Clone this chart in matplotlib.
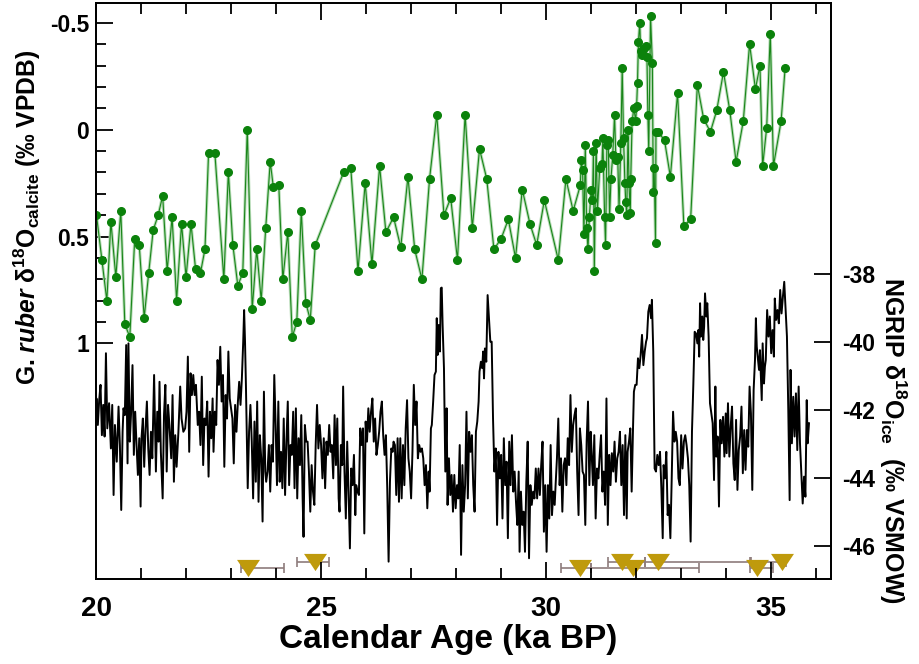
"""G. ruber d18O (green, left axis) against NGRIP d18O (black, right axis), with tie points."""
import matplotlib
matplotlib.use("Agg")
import matplotlib.pyplot as plt
from matplotlib.ticker import FixedLocator

plt.rcParams.update({
    "font.family": "Liberation Sans",
    "font.weight": "bold",
    "axes.labelweight": "bold",
    "axes.unicode_minus": False,
    "mathtext.fontset": "custom",
    "mathtext.rm": "Liberation Sans:bold",
    "mathtext.it": "Liberation Sans:italic:bold",
    "mathtext.bf": "Liberation Sans:bold",
    "mathtext.default": "rm",
})

# --- G. ruber d18O (calcite), permil VPDB ---
ruber_age = [
    20.01, 20.13, 20.24, 20.33, 20.44, 20.55, 20.64, 20.75, 20.86, 20.96,
    21.07, 21.17, 21.27, 21.38, 21.48, 21.58, 21.69, 21.79, 21.90, 22.00,
    22.11, 22.21, 22.32, 22.42, 22.50, 22.64, 22.84, 22.94, 23.04, 23.15,
    23.26, 23.36, 23.47, 23.57, 23.67, 23.77, 23.87, 23.94, 24.06, 24.15,
    24.26, 24.36, 24.46, 24.56, 24.66, 24.76, 24.87, 25.50, 25.66, 25.82,
    25.98, 26.13, 26.30, 26.44, 26.61, 26.77, 26.93, 27.08, 27.24, 27.41,
    27.57, 27.73, 27.88,
    28.03, 28.20, 28.36, 28.52, 28.68, 28.84, 29.00, 29.16, 29.32, 29.47,
    29.64, 29.79, 29.96, 30.27, 30.44, 30.60, 30.76, 30.78, 30.81, 30.84,
    30.87, 30.90, 30.93, 30.96, 31.00, 31.03, 31.05, 31.07, 31.11, 31.14,
    31.19, 31.24, 31.26, 31.30, 31.32, 31.35, 31.38, 31.41, 31.44, 31.48,
    31.52, 31.55, 31.59, 31.62, 31.66, 31.69, 31.72, 31.75, 31.77, 31.79,
    31.82, 31.84, 31.87, 31.88, 31.91, 31.95, 31.99, 32.01, 32.03, 32.05,
    32.08, 32.10, 32.14, 32.18, 32.22, 32.24, 32.26, 32.28, 32.32, 32.36,
    32.38, 32.40, 32.43, 32.44, 32.49, 32.63, 32.76, 32.92, 33.06, 33.21,
    33.36, 33.50, 33.65, 33.79, 33.94, 34.08, 34.22, 34.38, 34.52, 34.65,
    34.75, 34.81, 34.90, 34.98, 35.05, 35.22, 35.31,
]
ruber_d18o = [
    0.40, 0.61, 0.80, 0.43, 0.69, 0.38, 0.91, 0.97, 0.51, 0.54,
    0.88, 0.67, 0.47, 0.40, 0.31, 0.66, 0.41, 0.80, 0.44, 0.69,
    0.44, 0.65, 0.67, 0.56, 0.11, 0.11, 0.70, 0.20, 0.54, 0.73,
    0.67, 0.00, 0.84, 0.56, 0.80, 0.46, 0.15, 0.27, 0.26, 0.70,
    0.48, 0.97, 0.90, 0.38, 0.81, 0.89, 0.54, 0.20, 0.18, 0.66,
    0.25, 0.63, 0.17, 0.48, 0.41, 0.55, 0.22, 0.56, 0.70, 0.23,
    -0.07, 0.40, 0.32,
    0.61, -0.07, 0.46, 0.09, 0.23, 0.56, 0.51, 0.42, 0.60, 0.28,
    0.44, 0.54, 0.33, 0.61, 0.23, 0.38, 0.26, 0.14, 0.19, 0.49,
    0.07, 0.46, 0.56, 0.41, 0.28, 0.33, 0.10, 0.66, 0.06, 0.38,
    0.18, 0.16, 0.04, 0.41, 0.54, 0.07, 0.05, 0.41, 0.23, 0.12,
    -0.07, 0.14, 0.13, 0.37, 0.06, -0.29, 0.04, 0.25, 0.34, 0.40,
    0.00, 0.25, 0.39, 0.23, -0.04, -0.10, -0.04, -0.11, -0.22, -0.41,
    -0.50, -0.37, -0.35, -0.38, -0.39, -0.34, -0.07, 0.10, -0.53, -0.31,
    0.29, 0.18, 0.53, 0.01, 0.01, 0.05, 0.22, -0.17, 0.45, 0.42,
    -0.21, -0.05, 0.01, -0.09, -0.27, -0.09, 0.15, -0.04, -0.40, -0.19,
    -0.30, 0.17, -0.01, -0.45, 0.17, -0.04, -0.29,
]

# --- NGRIP d18O (ice), permil VSMOW ---
ngrip_age = [
    20.00, 20.01, 20.04, 20.07, 20.10, 20.13, 20.16, 20.19, 20.22, 20.25,
    20.29, 20.33, 20.36, 20.39, 20.42, 20.46, 20.50, 20.53, 20.56, 20.59,
    20.61, 20.64, 20.67, 20.70, 20.72, 20.75, 20.78, 20.81, 20.84, 20.87,
    20.90, 20.93, 20.96, 20.99, 21.01, 21.04, 21.07, 21.10, 21.13, 21.16,
    21.19, 21.22, 21.25, 21.29, 21.33, 21.36, 21.39, 21.41, 21.44, 21.48,
    21.51, 21.54, 21.57, 21.60, 21.63, 21.67, 21.70, 21.73, 21.76, 21.79,
    21.83, 21.87, 21.90, 21.94, 21.98, 22.01, 22.04, 22.07, 22.10, 22.13,
    22.16, 22.19, 22.22, 22.26, 22.29, 22.32, 22.35, 22.38, 22.41, 22.44,
    22.47, 22.50, 22.53, 22.56, 22.59, 22.61, 22.64, 22.67, 22.70, 22.73,
    22.76, 22.79, 22.82, 22.85, 22.88, 22.91, 22.94, 22.97, 23.00, 23.03,
    23.06, 23.09, 23.12, 23.15, 23.18, 23.21, 23.24, 23.27, 23.29,
    23.31, 23.33, 23.37, 23.40, 23.43, 23.46, 23.49, 23.52, 23.55, 23.58,
    23.61, 23.64, 23.67, 23.70, 23.73, 23.76, 23.78, 23.81, 23.84, 23.87,
    23.90, 23.93, 23.96, 23.99, 24.02, 24.05, 24.08, 24.11, 24.14, 24.17,
    24.20, 24.23, 24.26, 24.29, 24.32, 24.35, 24.38, 24.41, 24.44, 24.47,
    24.50, 24.53, 24.56, 24.59, 24.61, 24.64, 24.67, 24.70, 24.73, 24.76,
    24.79, 24.82, 24.85, 24.88, 24.91, 24.94, 24.97, 25.00, 25.03, 25.06,
    25.09, 25.12, 25.15, 25.18, 25.21, 25.24, 25.27, 25.30, 25.33, 25.36,
    25.39, 25.41, 25.44, 25.47, 25.49, 25.52, 25.55, 25.58, 25.61, 25.64,
    25.67, 25.70, 25.73, 25.76, 25.78, 25.81, 25.84, 25.87, 25.90, 25.93,
    25.96, 25.99, 26.02, 26.05, 26.08, 26.11, 26.14, 26.17, 26.20, 26.23,
    26.26, 26.29, 26.32, 26.35, 26.38, 26.41, 26.44, 26.47, 26.50, 26.53,
    26.56, 26.59, 26.61,
    26.64, 26.67, 26.70, 26.73, 26.76, 26.79, 26.82, 26.85, 26.88, 26.91,
    26.94, 26.97, 27.00, 27.03, 27.06, 27.09, 27.12, 27.15, 27.18, 27.21,
    27.24, 27.27, 27.30, 27.33, 27.36, 27.39, 27.41, 27.44, 27.46, 27.49,
    27.52, 27.55, 27.57, 27.59, 27.61, 27.64, 27.66, 27.68, 27.70, 27.73,
    27.76, 27.79, 27.81, 27.84, 27.87, 27.90, 27.93, 27.96, 27.99, 28.02,
    28.05, 28.08, 28.11, 28.14, 28.17, 28.20, 28.23, 28.26, 28.29, 28.32,
    28.35, 28.38, 28.41, 28.44, 28.47, 28.50, 28.52, 28.55, 28.58, 28.60,
    28.62, 28.64, 28.67, 28.70, 28.73, 28.76, 28.79, 28.82, 28.85, 28.88,
    28.91, 28.94, 28.97, 29.00, 29.03, 29.06, 29.09, 29.12, 29.15, 29.18,
    29.21, 29.24, 29.27, 29.30, 29.33, 29.36, 29.39, 29.41, 29.44, 29.47,
    29.50, 29.53, 29.56, 29.59, 29.62, 29.65, 29.68, 29.71, 29.74, 29.77,
    29.80, 29.83, 29.86, 29.89, 29.92, 29.95, 29.98,
    30.01, 30.04, 30.07, 30.10, 30.13, 30.16, 30.19, 30.21, 30.24, 30.27,
    30.30, 30.33, 30.36, 30.39, 30.42, 30.45, 30.48, 30.51, 30.54, 30.57,
    30.60, 30.63, 30.66, 30.69, 30.72, 30.75, 30.78, 30.81, 30.84, 30.87,
    30.90, 30.93, 30.96, 30.99, 31.01, 31.04, 31.07, 31.10, 31.13, 31.16,
    31.19, 31.22, 31.25, 31.28, 31.31, 31.34, 31.37, 31.40, 31.43, 31.46,
    31.49, 31.52, 31.55, 31.58, 31.61, 31.64, 31.67, 31.70, 31.73, 31.76,
    31.79, 31.81, 31.84, 31.87, 31.90, 31.93, 31.95, 31.98, 32.01, 32.04,
    32.07, 32.10, 32.13, 32.16, 32.19, 32.22, 32.24, 32.27, 32.30, 32.33,
    32.35, 32.38, 32.41, 32.44, 32.47, 32.50, 32.53, 32.56, 32.59, 32.61,
    32.64, 32.67, 32.70, 32.73, 32.76, 32.79, 32.82, 32.85, 32.88, 32.91,
    32.94, 32.97, 33.00, 33.03, 33.06, 33.09, 33.12, 33.15, 33.18, 33.21,
    33.24, 33.27, 33.30,
    33.33, 33.36, 33.38, 33.40, 33.42, 33.44, 33.47, 33.49, 33.51, 33.53,
    33.56, 33.58, 33.61, 33.64, 33.67, 33.70, 33.73, 33.76, 33.78, 33.81,
    33.84, 33.87, 33.90, 33.93, 33.96, 33.99, 34.01, 34.04, 34.07, 34.10,
    34.13, 34.16, 34.19, 34.22, 34.25, 34.28, 34.31, 34.34, 34.37, 34.40,
    34.43, 34.46, 34.49, 34.52, 34.55, 34.58, 34.61, 34.64, 34.66, 34.68,
    34.70, 34.73, 34.75, 34.77, 34.79, 34.81, 34.84, 34.86, 34.88, 34.91,
    34.94, 34.97, 35.00, 35.03, 35.06, 35.08, 35.11, 35.14, 35.17, 35.20,
    35.23, 35.26, 35.29, 35.32, 35.35, 35.38, 35.41, 35.43, 35.46, 35.49,
    35.52, 35.55, 35.58, 35.61, 35.64, 35.67, 35.70, 35.73, 35.76, 35.79,
    35.81, 35.84,
]
ngrip_d18o = [
    -42.05, -41.66, -42.44, -41.71, -41.26, -42.74, -41.85, -42.78, -40.33, -42.54,
    -41.80, -43.13, -41.85, -44.50, -42.44, -43.52, -41.90, -43.03, -44.94, -42.64,
    -41.95, -42.15, -40.09, -43.57, -40.04, -42.93, -42.05, -40.68, -43.32, -42.05,
    -43.03, -43.91, -42.83, -44.84, -42.83, -42.25, -43.67, -42.54, -41.75, -43.13,
    -43.91, -42.64, -43.42, -40.97, -43.81, -42.05, -42.93, -41.17, -43.23, -44.60,
    -42.15, -41.26, -43.81, -41.85, -42.44, -43.42, -41.56, -44.11, -42.74, -43.67,
    -42.64, -41.31, -42.25, -42.64, -42.54, -42.05, -40.43, -43.23, -40.92, -41.56,
    -40.97, -41.56, -41.26, -42.44, -42.05, -43.03, -41.02, -43.62, -42.25, -42.44,
    -41.75, -43.96, -42.05, -42.83, -41.66, -43.23, -42.05, -42.44, -40.53, -41.26,
    -40.14, -41.75, -40.97, -43.67, -41.56, -42.25, -40.28, -41.66, -41.95, -42.25,
    -43.57, -41.85, -42.64, -41.80, -41.17, -41.85, -41.07, -39.99, -39.06,
    -39.99, -41.26, -44.30, -42.64, -41.85, -42.93, -44.60, -42.34, -44.11, -41.75,
    -44.70, -42.74, -43.42, -45.28, -41.46, -43.81, -44.11, -43.81, -43.03, -44.40,
    -43.03, -43.52, -40.97, -42.44, -44.21, -41.75, -44.11, -43.23, -44.30, -42.25,
    -44.50, -42.93, -41.75, -44.21, -43.03, -43.32, -42.05, -44.30, -41.95, -44.60,
    -42.83, -43.62, -42.15, -44.60, -45.73, -42.44, -42.93, -42.93, -43.81, -44.99,
    -43.62, -44.40, -44.79, -43.03, -41.85, -43.13, -42.44, -43.03, -44.01, -42.83,
    -44.30, -42.93, -43.32, -42.44, -43.23, -43.03, -44.01, -42.15, -43.62, -42.25,
    -44.60, -44.99, -43.03, -43.62, -41.31, -43.81, -45.19, -42.93, -44.40, -46.07,
    -43.72, -44.21, -43.32, -45.09, -44.21, -44.40, -44.50, -42.54, -43.03, -42.54,
    -45.63, -42.34, -42.93, -41.95, -42.64, -42.05, -41.66, -42.93, -42.25, -43.32,
    -43.03, -42.64, -42.05, -41.75, -42.74, -43.32, -42.74, -44.30, -46.46, -44.11,
    -43.13, -43.23, -42.93,
    -43.03, -44.50, -42.83, -44.70, -42.83, -44.60, -43.03, -44.21, -42.54, -41.71,
    -43.42, -43.81, -44.60, -43.23, -41.26, -42.44, -41.75, -43.42, -43.03, -43.23,
    -43.13, -43.42, -44.21, -43.62, -44.89, -43.81, -44.40, -42.54, -42.44, -41.75,
    -40.97, -40.87, -39.30, -40.38, -39.50, -40.28, -38.42, -38.40, -39.50, -40.77,
    -43.81, -41.95, -44.79, -43.42, -44.50, -43.91, -44.99, -43.91, -44.89, -44.21,
    -44.60, -43.03, -46.26, -43.62, -44.99, -44.21, -42.05, -44.60, -42.64, -43.23,
    -42.74, -44.21, -44.99, -42.64, -42.34, -41.75, -40.87, -40.58, -40.77, -40.28,
    -41.07, -40.19, -40.58, -38.62, -39.30, -39.99, -39.99, -42.25, -43.81, -43.13,
    -45.38, -43.23, -44.01, -43.32, -45.19, -42.83, -44.21, -43.52, -45.77, -42.93,
    -44.21, -42.74, -44.40, -43.81, -44.70, -45.38, -43.81, -46.17, -44.40, -45.38,
    -44.99, -46.17, -44.11, -42.93, -46.36, -44.21, -44.79, -44.40, -44.60, -43.72,
    -44.60, -43.72, -44.50, -43.62, -42.93, -45.58, -44.21,
    -46.17, -44.21, -45.19, -43.03, -45.09, -44.40, -44.79, -44.21, -43.42, -42.25,
    -44.21, -43.42, -44.99, -43.62, -43.42, -44.21, -42.83, -43.62, -41.56, -43.23,
    -42.44, -42.15, -41.95, -43.81, -45.09, -42.54, -43.03, -43.81, -43.91, -45.38,
    -42.93, -41.75, -44.21, -42.64, -43.23, -44.21, -42.74, -45.19, -43.72, -44.01,
    -43.32, -42.74, -44.40, -43.81, -44.79, -41.66, -45.38, -43.32, -44.21, -43.27,
    -43.81, -42.93, -44.11, -43.42, -43.23, -42.64, -44.21, -43.03, -45.09, -42.74,
    -45.19, -43.23, -42.93, -42.54, -44.40, -42.54, -41.46, -41.26, -41.26, -40.48,
    -40.77, -40.38, -39.79, -40.68, -40.28, -39.99, -39.89, -39.11, -38.91, -39.30,
    -38.76, -40.28, -43.72, -43.81, -43.32, -43.62, -43.23, -44.30, -45.77, -43.62,
    -44.01, -43.23, -45.09, -44.79, -45.77, -44.01, -42.05, -42.93, -42.64, -42.93,
    -44.01, -44.21, -42.74, -43.72, -42.93, -42.74, -43.03, -43.42, -44.21, -45.87,
    -42.64, -41.26, -39.70,
    -39.75, -40.04, -39.65, -40.43, -38.86, -39.84, -39.25, -39.94, -39.55, -38.57,
    -39.25, -38.86, -39.84, -41.80, -42.10, -42.39, -44.06, -41.31, -43.37, -42.78,
    -44.84, -42.29, -42.98, -42.20, -43.37, -42.10, -43.27, -41.80, -43.37, -42.49,
    -41.90, -43.57, -44.06, -42.29, -44.35, -43.18, -42.78, -41.90, -43.86, -42.59,
    -43.76, -42.59, -43.08, -41.31, -42.10, -44.35, -41.41, -40.53, -39.30, -40.14,
    -40.43, -40.82, -40.24, -41.02, -41.71, -40.04, -41.22, -40.73, -40.53, -39.06,
    -39.84, -39.25, -40.33, -39.65, -40.43, -38.72, -39.35, -39.06, -39.45, -38.47,
    -39.16, -38.67, -38.23, -39.06, -39.84, -42.00, -44.65, -40.82, -42.98, -41.61,
    -42.78, -41.51, -43.18, -41.31, -42.98, -43.86, -44.75, -43.96, -44.55, -41.71,
    -42.98, -42.39,
]

# --- tie points (triangles) with asymmetric age uncertainty ---
tie_age = [23.37, 24.87, 30.76, 31.69, 31.93, 32.49, 34.69, 35.24]
tie_err_young = [0.15, 0.40, 0.43, 0.32, 0.93, 0.30, 0.15, 0.69]
tie_err_old = [0.80, 0.30, 0.24, 0.50, 1.47, 2.05, 0.35, 0.10]
tie_row = [-46.65, -46.46, -46.65, -46.46, -46.65, -46.46, -46.65, -46.46]

fig = plt.figure(figsize=(9.19, 6.64), dpi=100)
ax = fig.add_axes([0.1045, 0.128, 0.7998, 0.8675])
ax2 = ax.twinx()
ax.set_zorder(ax2.get_zorder() + 1)
ax.patch.set_visible(False)

# NGRIP + tie points on the right axis
ax2.plot(ngrip_age, ngrip_d18o, color="black", lw=1.4)
ax2.errorbar(tie_age, tie_row, xerr=[tie_err_young, tie_err_old], fmt="none",
             ecolor="#8e7c7c", elinewidth=1.2, capsize=3.5, capthick=1.2)
ax2.plot(tie_age, tie_row, ls="none", marker=[(-1, 0.75), (1, 0.75), (0, -0.75)],
         ms=16.5, color="#bf9a0c", mew=0)

# G. ruber on the left axis
ax.plot(ruber_age, ruber_d18o, color="#b8dcb8", lw=2.2)
ax.plot(ruber_age, ruber_d18o, color="#1a861a", lw=0.8, marker="o", ms=5.5,
        mfc="#0b820b", mec="#0b820b")

ax.set_xlim(20, 36.33)
ax.set_ylim(2.103, -0.593)
ax2.set_ylim(-46.97, -30.03)

ax.xaxis.set_major_locator(FixedLocator([20, 25, 30, 35]))
ax.xaxis.set_minor_locator(FixedLocator(range(20, 37)))
ax.yaxis.set_major_locator(FixedLocator([-0.5, 0, 0.5, 1]))
ax.yaxis.set_minor_locator(FixedLocator([-0.5 + 0.1 * i for i in range(16)]))
ax.set_yticklabels(["-0.5", "0", "0.5", "1"])
ax2.yaxis.set_major_locator(FixedLocator([-38, -40, -42, -44, -46]))
ax2.set_yticklabels(["-38", "-40", "-42", "-44", "-46"])

ax.tick_params(axis="x", which="both", direction="in", top=True, width=1.3,
               labelsize=20, pad=12)
ax.tick_params(axis="x", which="major", length=12)
ax.tick_params(axis="x", which="minor", length=8)
ax.tick_params(axis="y", which="both", direction="in", width=1.3, labelsize=16.5, pad=5)
ax.tick_params(axis="y", which="major", length=12)
ax.tick_params(axis="y", which="minor", length=7)
ax2.tick_params(axis="y", direction="in", length=12, width=1.3, labelsize=16.5, pad=8)
for a in (ax, ax2):
    for s in a.spines.values():
        s.set_linewidth(1.3)

ax.set_xlabel("Calendar Age (ka BP)", fontsize=24)
ax.xaxis.set_label_coords(0.479, -0.078)
ax.set_ylabel("G. $\\it{ruber}$ δ$^{18}$O$_{calcite}$ (‰ VPDB)", fontsize=17.7, va="center")
ax.yaxis.set_label_coords(-0.093, 0.628)
ax2.set_ylabel("NGRIP δ$^{18}$O$_{ice}$  (‰ VSMOW)", fontsize=18, rotation=270, va="center")
ax2.yaxis.set_label_coords(1.084, 0.241)

fig.savefig("out.png", dpi=100)
